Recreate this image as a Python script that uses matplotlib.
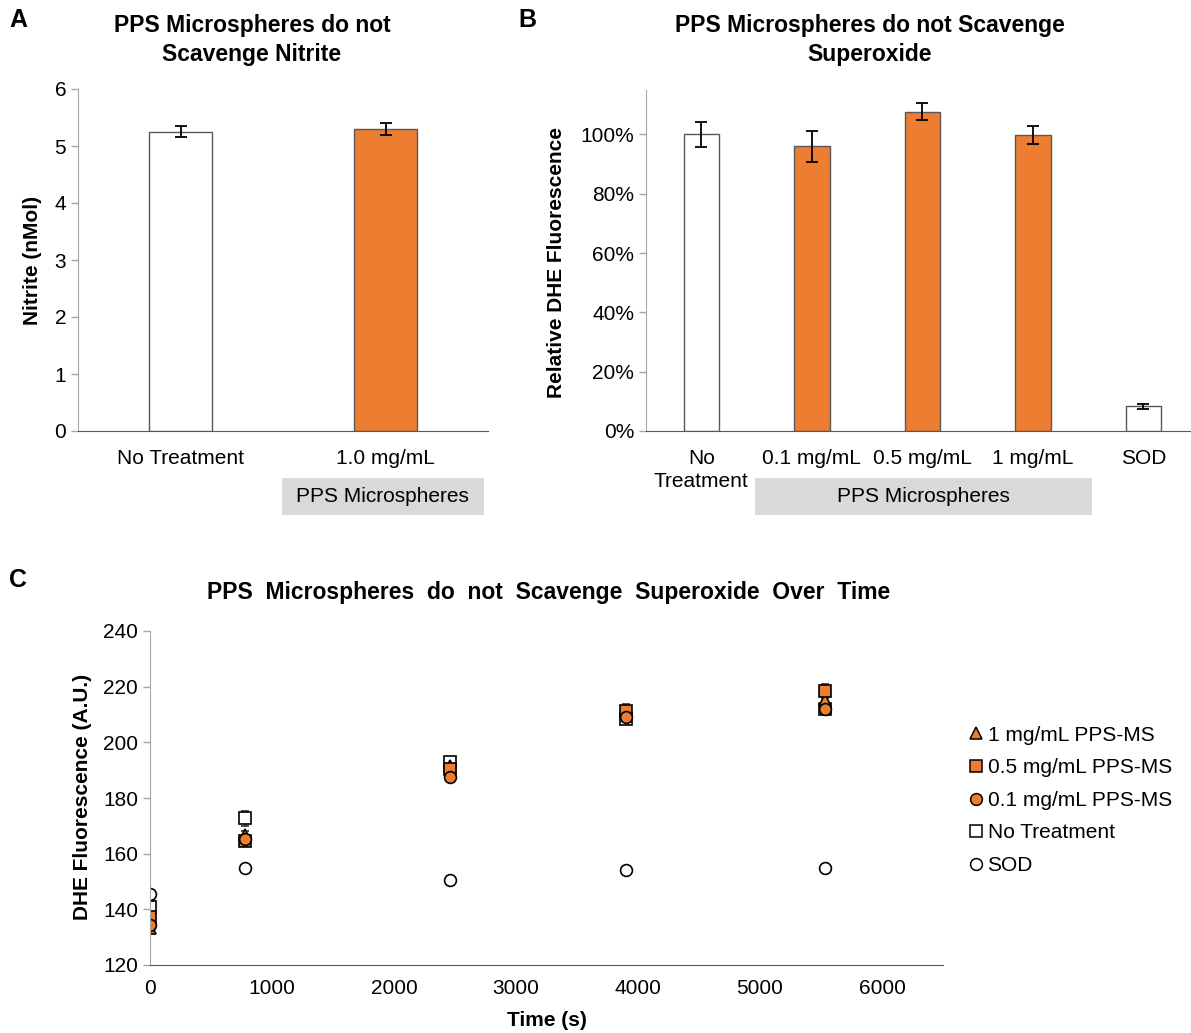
import numpy as np
import matplotlib
matplotlib.use('Agg')
import matplotlib.pyplot as plt
from matplotlib.patches import Rectangle
from matplotlib.lines import Line2D
from matplotlib.transforms import blended_transform_factory
from matplotlib.ticker import PercentFormatter

plt.rcParams['font.family'] = ['Liberation Sans', 'DejaVu Sans']

ORANGE = '#ED7D31'

# Panel A: nitrite
a_labels = ['No Treatment', '1.0 mg/mL']
a_values = [5.25, 5.30]
a_errors = [0.10, 0.10]
a_colors = ['white', ORANGE]

# Panel B: relative DHE fluorescence
b_labels = ['No\nTreatment', '0.1 mg/mL', '0.5 mg/mL', '1 mg/mL', 'SOD']
b_values = [1.00, 0.96, 1.077, 0.998, 0.083]
b_errors = [0.041, 0.053, 0.029, 0.030, 0.009]
b_colors = ['white', ORANGE, ORANGE, ORANGE, 'white']

# Panel C: DHE fluorescence over time
times = [0, 780, 2455, 3900, 5530]
c_1mg = [133.3, 166.8, 191.5, 210.4, 215.2]
c_1mg_err = [1.5, 1.5, 1.5, 1.5, 1.5]
c_05mg = [137.4, 164.7, 190.3, 211.3, 218.3]
c_05mg_err = [1.5, 1.5, 1.5, 2.5, 2.5]
c_01mg = [134.4, 165.2, 187.6, 209.0, 211.9]
c_01mg_err = [1.5, 1.5, 1.5, 1.5, 1.0]
c_nt = [141.0, 172.7, 192.8, 208.3, 212.0]
c_nt_err = [2.0, 2.7, 1.5, 1.0, 1.0]
c_sod = [145.5, 154.8, 150.4, 154.0, 154.8]
c_sod_err = [1.0, 1.5, 1.5, 1.5, 1.0]

W, H = 1191, 1033
fig = plt.figure(figsize=(W / 100, H / 100), dpi=100)


def px_axes(left, top, right, bottom):
    return fig.add_axes([left / W, 1 - bottom / H, (right - left) / W, (bottom - top) / H])


def style_axes(ax, xpad=13):
    for s in ['top', 'right']:
        ax.spines[s].set_visible(False)
    ax.spines['left'].set_color('#a6a6a6')
    ax.spines['bottom'].set_color('#595959')
    ax.tick_params(axis='y', colors='#a6a6a6', labelcolor='black', labelsize=15, length=5, width=1)
    ax.tick_params(axis='x', length=0, labelsize=15, pad=xpad)


def group_box(ax, x0, x1, y0, y1, text):
    trans = blended_transform_factory(ax.transData, ax.transAxes)
    ax.add_patch(Rectangle((x0, y0), x1 - x0, y1 - y0, transform=trans,
                           facecolor='#d9d9d9', edgecolor='none', clip_on=False))
    ax.text((x0 + x1) / 2, (y0 + y1) / 2, text, transform=trans, ha='center', va='center',
            fontsize=15)


# ---- Panel A ----
axA = px_axes(78, 89, 488, 431)
xa = np.arange(len(a_labels))
axA.bar(xa, a_values, width=0.31, color=a_colors, edgecolor='#595959', linewidth=1,
        yerr=a_errors, error_kw=dict(ecolor='black', capsize=4, elinewidth=1.3, capthick=1.3))
axA.set_xlim(-0.5, 1.5)
axA.set_ylim(0, 6)
axA.set_yticks(range(0, 7))
axA.set_xticks(xa)
axA.set_xticklabels(a_labels)
style_axes(axA)
group_box(axA, 0.495, 1.48, -0.246, -0.137, 'PPS Microspheres')

# ---- Panel B ----
axB = px_axes(646, 90, 1191, 431)
xb = np.arange(len(b_labels))
axB.bar(xb, b_values, width=0.32, color=b_colors, edgecolor='#595959', linewidth=1,
        yerr=b_errors, error_kw=dict(ecolor='black', capsize=4, elinewidth=1.3, capthick=1.3))
axB.set_xlim(-0.5, 4.43)
axB.set_ylim(0, 1.15)
axB.set_yticks(np.arange(0, 1.01, 0.2))
axB.yaxis.set_major_formatter(PercentFormatter(1.0, decimals=0))
axB.set_xticks(xb)
axB.set_xticklabels(b_labels, linespacing=1.25, va='top')
style_axes(axB)
group_box(axB, 0.486, 3.53, -0.246, -0.137, 'PPS Microspheres')

# ---- Panel C ----
axC = px_axes(150, 631, 943, 965)
mk = dict(linestyle='none', markersize=8.5, markeredgecolor='black', markeredgewidth=1.2,
          ecolor='#303030', elinewidth=1, capsize=3, capthick=1)
axC.errorbar(times, c_nt, yerr=c_nt_err, marker='s', markerfacecolor='white', **mk)
axC.errorbar(times, c_sod, yerr=c_sod_err, marker='o', markerfacecolor='white', **mk)
axC.errorbar(times, c_1mg, yerr=c_1mg_err, marker='^', markerfacecolor=ORANGE, **mk)
axC.errorbar(times, c_05mg, yerr=c_05mg_err, marker='s', markerfacecolor=ORANGE, **mk)
axC.errorbar(times, c_01mg, yerr=c_01mg_err, marker='o', markerfacecolor=ORANGE, **mk)
axC.set_xlim(0, 6500)
axC.set_ylim(120, 240)
axC.set_yticks(range(120, 241, 20))
axC.set_xticks(range(0, 6001, 1000))
style_axes(axC, xpad=10)

# legend with marker-only handles
leg_items = [('^', ORANGE, '1 mg/mL PPS-MS'),
             ('s', ORANGE, '0.5 mg/mL PPS-MS'),
             ('o', ORANGE, '0.1 mg/mL PPS-MS'),
             ('s', 'white', 'No Treatment'),
             ('o', 'white', 'SOD')]
handles = [Line2D([], [], linestyle='none', marker=m, markersize=8.5, markerfacecolor=fc,
                  markeredgecolor='black', markeredgewidth=1.1) for m, fc, _ in leg_items]
fig.legend(handles, [t for _, _, t in leg_items],
           loc='upper left', bbox_to_anchor=(950 / W, 1 - 707 / H), frameon=False,
           fontsize=15, handlelength=0.7, handletextpad=0.2, labelspacing=0.65)

# ---- Titles, labels, panel letters ----
title_kw = dict(fontsize=16.5, fontweight='bold', ha='center', va='center', linespacing=1.35)
fig.text(252 / W, 1 - 40 / H, 'PPS Microspheres do not\nScavenge Nitrite', **title_kw)
fig.text(870 / W, 1 - 40 / H, 'PPS Microspheres do not Scavenge\nSuperoxide', **title_kw)
fig.text(549 / W, 1 - 592 / H, 'PPS  Microspheres  do  not  Scavenge  Superoxide  Over  Time', **title_kw)

lab_kw = dict(fontsize=15, fontweight='bold', ha='center', va='center')
fig.text(32 / W, 1 - 260 / H, 'Nitrite (nMol)', rotation=90, **lab_kw)
fig.text(557 / W, 1 - 262 / H, 'Relative DHE Fluorescence', rotation=90, **lab_kw)
fig.text(82 / W, 1 - 797 / H, 'DHE Fluorescence (A.U.)', rotation=90, **lab_kw)
fig.text(547 / W, 1 - 1020 / H, 'Time (s)', **lab_kw)

let_kw = dict(fontsize=18, fontweight='bold', ha='center', va='center')
fig.text(18 / W, 1 - 20 / H, 'A', **let_kw)
fig.text(527 / W, 1 - 20 / H, 'B', **let_kw)
fig.text(18 / W, 1 - 580 / H, 'C', **let_kw)

fig.savefig('out.png', dpi=100)
